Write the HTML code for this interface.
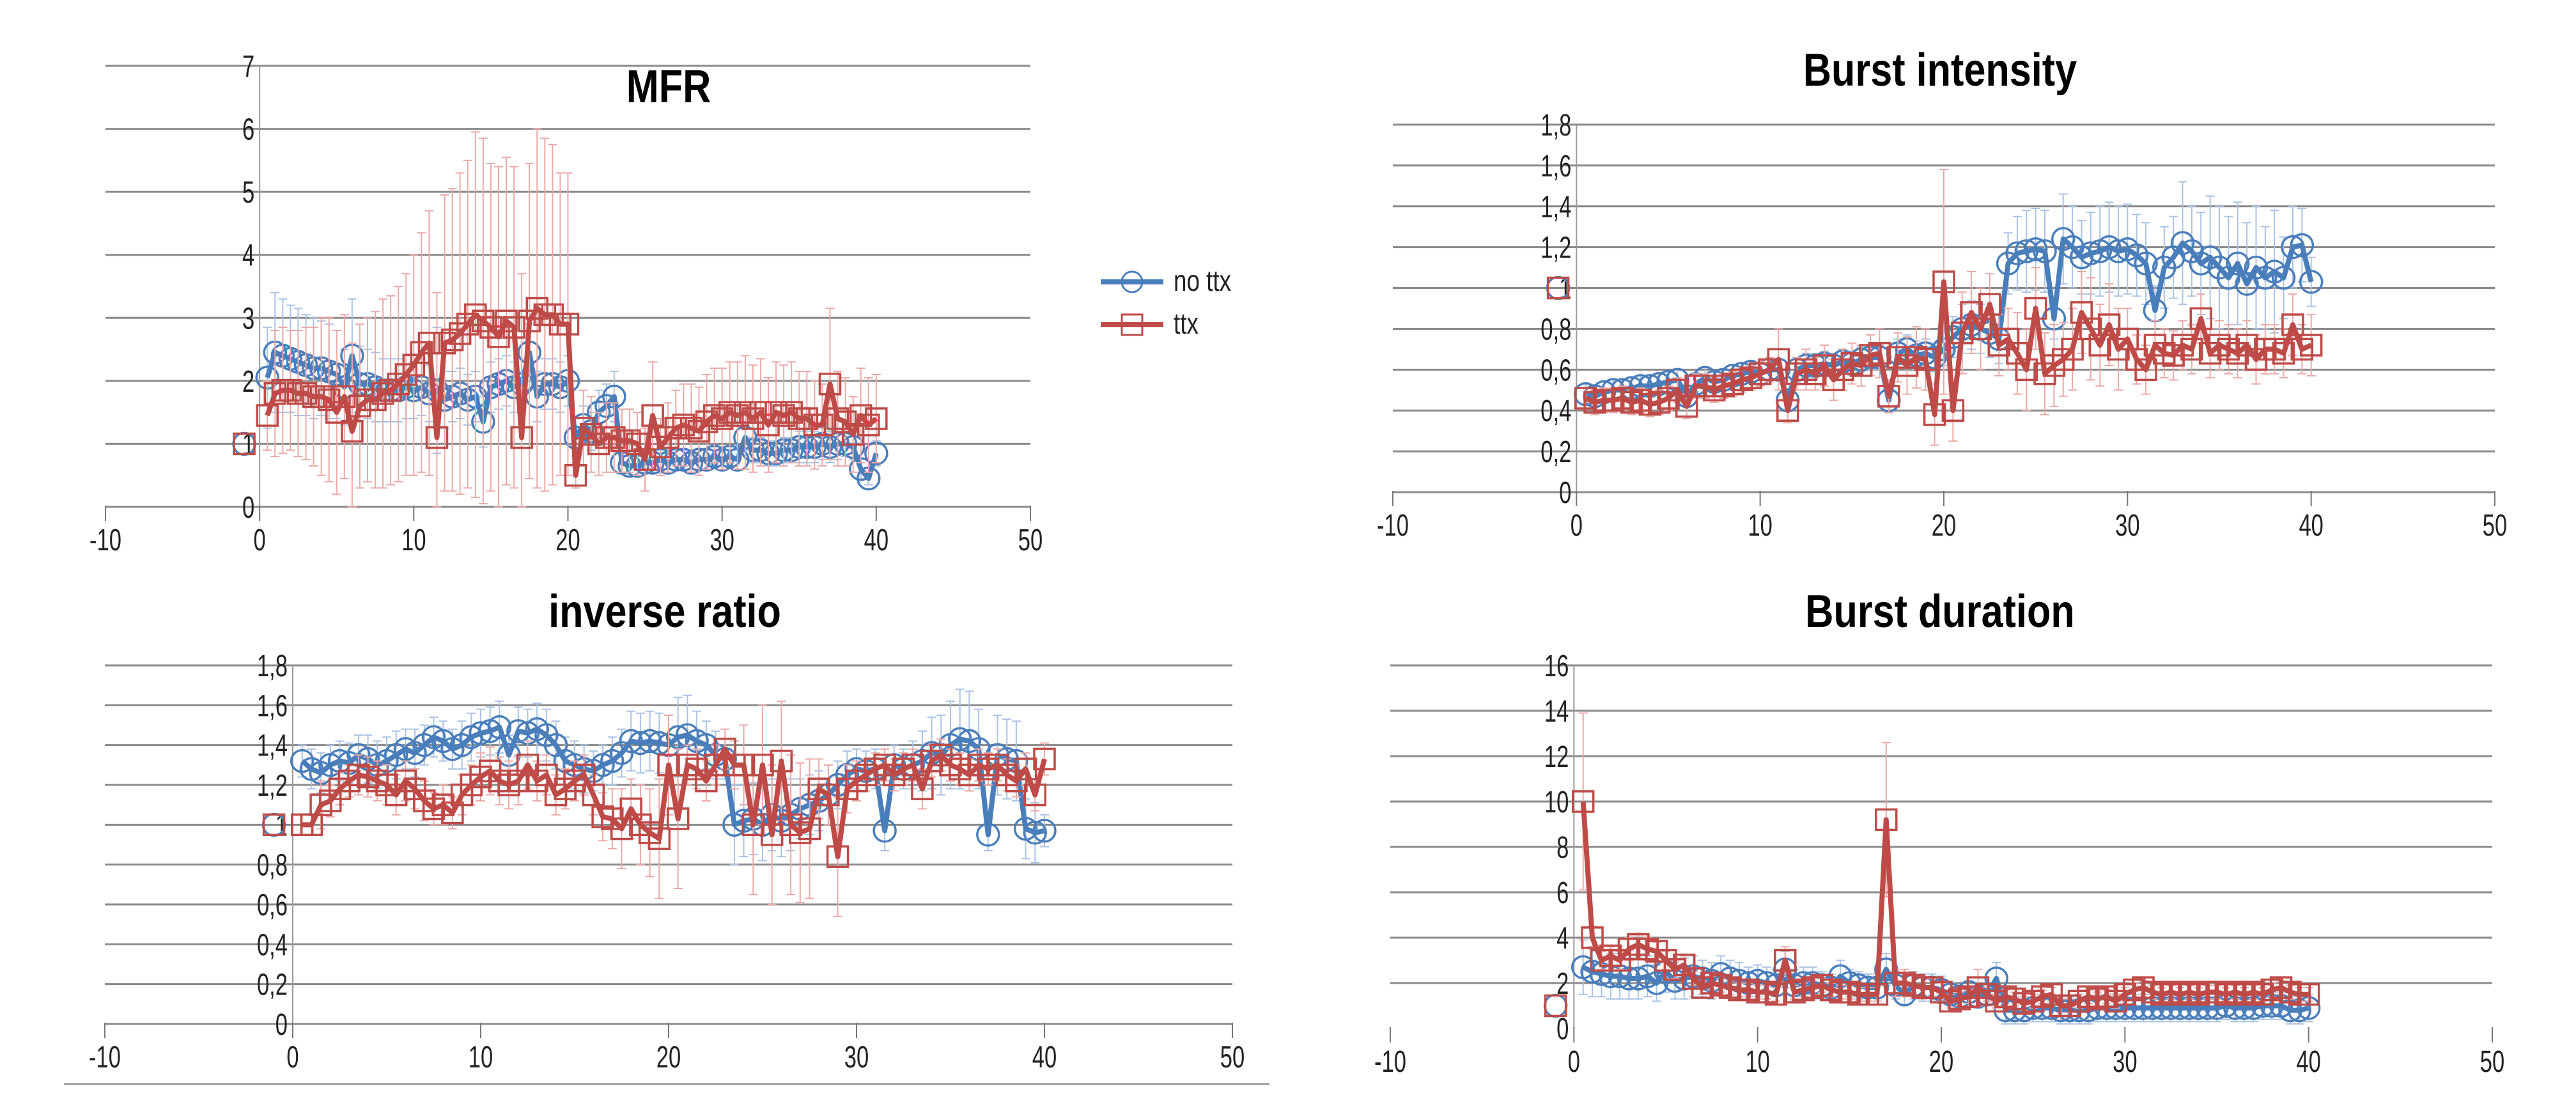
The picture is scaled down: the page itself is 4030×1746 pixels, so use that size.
<!DOCTYPE html>
<html><head><meta charset="utf-8"><style>
html,body{margin:0;padding:0;background:#fff;}
svg{display:block;}
text{font-family:"Liberation Sans Narrow","Liberation Sans",sans-serif;fill:#222;}
.title{font-family:"Liberation Sans",sans-serif;font-weight:bold;fill:#000;}
</style></head><body>
<svg id="root" width="4030" height="1746" viewBox="0 0 4030 1746" xmlns="http://www.w3.org/2000/svg">
<line x1="100" y1="1696" x2="1986" y2="1696" stroke="#999" stroke-width="3"/>
<g>
<g>
<line x1="1722" y1="441" x2="1820" y2="441" stroke="#4a7ebb" stroke-width="8"/>
<circle cx="1771" cy="441" r="16" fill="none" stroke="#4a7ebb" stroke-width="3"/>
<text transform="translate(1836,455) scale(0.8,1)" font-size="46">no ttx</text></g>
<g>
<line x1="1722" y1="508" x2="1820" y2="508" stroke="#be4b48" stroke-width="8"/>
<rect x="1755" y="492" width="32" height="32" fill="none" stroke="#be4b48" stroke-width="3"/>
<text transform="translate(1836,522) scale(0.8,1)" font-size="46">ttx</text></g>
</g>
</svg>
<script>
// ---- MFR ----
const mfrBlue=[2.05,2.45,2.4,2.35,2.3,2.25,2.2,2.2,2.15,2.1,1.9,2.4,1.95,1.95,1.9,1.85,1.85,1.85,1.9,1.85,1.9,1.8,1.85,1.7,1.75,1.8,1.7,1.75,1.35,1.9,1.95,2.0,1.9,1.95,2.45,1.75,1.95,1.95,1.9,2.0,1.1,1.3,1.2,1.5,1.6,1.75,0.7,0.65,0.65,0.7,0.7,0.75,0.7,0.75,0.75,0.7,0.75,0.75,0.8,0.75,0.8,0.75,1.1,0.9,0.9,0.85,0.85,0.9,0.9,0.95,0.95,0.95,1.0,0.95,1.0,1.0,0.95,0.6,0.45,0.85];
const mfrRed=[1.45,1.8,1.85,1.85,1.8,1.8,1.75,1.75,1.7,1.5,1.75,1.2,1.6,1.7,1.7,1.8,1.85,1.95,2.1,2.25,2.45,2.6,1.1,2.6,2.65,2.75,2.9,3.05,2.95,2.85,2.7,2.95,2.85,1.1,2.95,3.15,3.05,3.05,2.9,2.9,0.5,1.25,1.15,1.0,1.1,1.1,1.05,1.05,1.0,0.75,1.45,0.95,1.1,1.25,1.3,1.25,1.2,1.35,1.45,1.4,1.5,1.45,1.5,1.4,1.5,1.3,1.5,1.45,1.5,1.4,1.4,1.3,1.3,1.95,1.4,1.35,1.15,1.45,1.3,1.4];
const mfrBlueErr=[0.8,0.95,0.9,0.85,0.85,0.8,0.8,0.75,0.75,0.7,0.6,0.9,0.6,0.55,0.55,0.5,0.5,0.5,0.5,0.45,0.45,0.45,1.0,0.45,0.4,0.4,0.4,0.4,0.4,0.4,0.4,0.4,0.4,0.4,0.45,0.4,0.4,0.4,0.4,0.4,0.3,0.3,0.3,0.35,0.35,0.4,0.15,0.15,0.15,0.15,0.15,0.15,0.15,0.15,0.15,0.15,0.15,0.15,0.15,0.15,0.15,0.15,0.2,0.2,0.2,0.2,0.2,0.2,0.2,0.25,0.25,0.25,0.25,0.25,0.25,0.2,0.2,0.15,0.1,0.2];
const mfrRedErr=[0.55,1.0,1.0,0.95,1.0,1.05,1.1,1.25,1.3,1.3,1.3,1.4,1.3,1.3,1.4,1.5,1.5,1.55,1.6,1.75,1.9,2.1,2.3,2.35,2.4,2.55,2.6,2.9,2.9,2.6,2.7,2.6,2.55,2.6,2.5,2.85,2.8,2.7,2.4,2.4,0.2,0.6,0.6,0.5,0.55,0.55,0.5,0.5,0.5,0.5,0.85,0.45,0.55,0.6,0.65,0.7,0.7,0.75,0.75,0.8,0.8,0.85,0.9,0.85,0.85,0.75,0.8,0.8,0.8,0.75,0.75,0.7,0.65,1.2,0.75,0.7,0.6,0.75,0.75,0.7];
// ---- Burst intensity ----
const biBlue=[0.48,0.47,0.49,0.5,0.5,0.51,0.52,0.52,0.53,0.54,0.55,0.47,0.53,0.56,0.54,0.55,0.57,0.58,0.59,0.58,0.6,0.6,0.45,0.6,0.62,0.62,0.63,0.62,0.64,0.63,0.65,0.66,0.66,0.45,0.68,0.7,0.67,0.68,0.66,0.7,0.76,0.8,0.82,0.8,0.78,0.75,1.12,1.17,1.18,1.19,1.18,0.85,1.24,1.2,1.15,1.17,1.18,1.2,1.18,1.19,1.16,1.12,0.89,1.1,1.15,1.22,1.18,1.12,1.15,1.1,1.05,1.12,1.02,1.1,1.05,1.08,1.05,1.2,1.21,1.03];
const biRed=[0.46,0.44,0.45,0.45,0.46,0.44,0.45,0.43,0.44,0.46,0.5,0.42,0.52,0.52,0.5,0.52,0.53,0.55,0.56,0.58,0.6,0.65,0.4,0.58,0.6,0.58,0.62,0.55,0.6,0.63,0.62,0.67,0.68,0.47,0.66,0.62,0.66,0.65,0.38,1.03,0.4,0.78,0.88,0.8,0.92,0.72,0.75,0.68,0.6,0.9,0.58,0.62,0.65,0.7,0.88,0.8,0.72,0.82,0.7,0.75,0.65,0.6,0.72,0.68,0.67,0.72,0.7,0.85,0.68,0.72,0.7,0.68,0.72,0.65,0.7,0.7,0.68,0.82,0.7,0.72];
const biBlueErr=[0.05,0.05,0.05,0.05,0.05,0.05,0.05,0.05,0.05,0.05,0.05,0.05,0.05,0.05,0.05,0.05,0.05,0.05,0.05,0.05,0.05,0.05,0.05,0.06,0.06,0.06,0.06,0.06,0.06,0.06,0.06,0.06,0.06,0.06,0.07,0.07,0.07,0.07,0.07,0.08,0.1,0.12,0.12,0.12,0.12,0.12,0.15,0.18,0.2,0.2,0.2,0.1,0.22,0.2,0.18,0.2,0.22,0.22,0.22,0.22,0.2,0.2,0.12,0.2,0.2,0.3,0.22,0.25,0.3,0.3,0.3,0.3,0.3,0.3,0.25,0.3,0.2,0.2,0.18,0.12];
const biRedErr=[0.05,0.06,0.06,0.06,0.06,0.06,0.06,0.06,0.06,0.06,0.06,0.06,0.06,0.06,0.06,0.06,0.06,0.06,0.06,0.06,0.06,0.15,0.06,0.08,0.1,0.08,0.1,0.1,0.1,0.1,0.1,0.1,0.12,0.08,0.12,0.14,0.15,0.15,0.15,0.55,0.15,0.2,0.2,0.2,0.15,0.15,0.15,0.2,0.2,0.2,0.2,0.2,0.18,0.2,0.2,0.25,0.2,0.2,0.2,0.15,0.12,0.12,0.12,0.12,0.12,0.12,0.12,0.12,0.12,0.12,0.12,0.12,0.12,0.12,0.12,0.12,0.12,0.15,0.12,0.15];
// ---- Inverse ratio ----
const irBlue=[1.32,1.28,1.26,1.3,1.32,1.31,1.35,1.33,1.3,1.32,1.35,1.38,1.36,1.4,1.44,1.42,1.38,1.4,1.44,1.46,1.47,1.49,1.35,1.47,1.46,1.48,1.45,1.4,1.32,1.3,1.28,1.27,1.3,1.32,1.36,1.42,1.41,1.42,1.41,1.4,1.44,1.45,1.42,1.4,1.35,1.33,1.0,1.02,1.03,1.0,1.05,1.02,1.05,1.08,1.1,1.12,1.15,1.2,1.25,1.28,1.27,1.28,0.97,1.3,1.28,1.3,1.32,1.36,1.35,1.4,1.43,1.42,1.38,0.95,1.35,1.33,1.32,0.98,0.96,0.97];
const irRed=[1.0,1.0,1.1,1.12,1.18,1.22,1.25,1.24,1.22,1.2,1.15,1.22,1.18,1.12,1.08,1.1,1.06,1.15,1.2,1.24,1.27,1.22,1.2,1.22,1.3,1.22,1.25,1.15,1.18,1.22,1.25,1.15,1.04,1.03,0.98,1.08,1.0,0.96,0.93,1.3,1.03,1.3,1.28,1.22,1.3,1.38,1.3,1.3,1.0,1.3,0.95,1.32,1.0,0.96,0.98,1.18,1.15,0.84,1.18,1.22,1.25,1.28,1.3,1.25,1.28,1.3,1.18,1.32,1.35,1.3,1.28,1.25,1.3,1.28,1.3,1.25,1.22,1.28,1.15,1.33];
const irBlueErr=[0.08,0.1,0.1,0.1,0.1,0.1,0.1,0.12,0.12,0.12,0.12,0.1,0.12,0.1,0.1,0.1,0.1,0.12,0.12,0.12,0.12,0.13,0.1,0.12,0.12,0.13,0.13,0.12,0.12,0.12,0.12,0.1,0.1,0.12,0.12,0.15,0.15,0.15,0.15,0.15,0.2,0.2,0.15,0.12,0.12,0.1,0.2,0.18,0.18,0.18,0.18,0.18,0.18,0.15,0.15,0.15,0.15,0.12,0.12,0.1,0.1,0.1,0.1,0.1,0.1,0.12,0.15,0.18,0.2,0.22,0.25,0.25,0.2,0.08,0.2,0.2,0.2,0.15,0.15,0.08];
const irRedErr=[0.05,0.05,0.12,0.08,0.08,0.08,0.1,0.1,0.1,0.1,0.1,0.1,0.1,0.1,0.08,0.1,0.08,0.1,0.1,0.12,0.12,0.12,0.12,0.12,0.12,0.1,0.1,0.1,0.1,0.1,0.1,0.1,0.12,0.15,0.2,0.15,0.2,0.22,0.3,0.25,0.35,0.1,0.1,0.1,0.1,0.1,0.12,0.2,0.35,0.3,0.35,0.3,0.35,0.35,0.35,0.15,0.15,0.3,0.12,0.1,0.08,0.08,0.08,0.08,0.08,0.08,0.1,0.08,0.08,0.08,0.08,0.08,0.08,0.08,0.08,0.08,0.08,0.08,0.08,0.08];
// ---- Burst duration ----
const bdBlue=[2.7,2.5,2.4,2.3,2.3,2.2,2.2,2.3,2.0,2.5,2.1,2.2,2.3,2.2,2.1,2.4,2.2,2.1,2.0,2.1,2.0,1.9,2.6,1.9,2.0,2.0,1.9,1.8,2.3,2.0,1.9,1.8,1.8,2.6,1.9,1.5,1.9,1.8,1.8,1.7,1.5,1.4,1.6,1.4,1.5,2.2,0.8,0.8,0.8,0.9,0.9,0.9,0.8,0.8,0.8,0.8,0.9,0.9,0.9,0.9,0.9,0.9,0.9,0.9,0.9,0.9,0.9,0.9,0.9,0.9,1.0,0.9,0.9,0.9,1.0,1.0,1.0,0.8,0.8,0.9];
const bdRed=[10,4.0,3.0,3.2,3.0,3.5,3.7,3.5,3.4,3.0,2.6,2.8,2.2,1.8,2.0,1.9,1.8,1.7,1.7,1.6,1.6,1.5,3.0,1.6,1.7,1.8,1.9,1.7,1.6,1.6,1.5,1.5,1.5,9.2,2.0,2.0,1.9,1.8,1.8,1.6,1.2,1.3,1.4,1.8,1.5,1.2,1.4,1.3,1.1,1.2,1.4,1.5,1.0,1.0,1.2,1.4,1.3,1.4,1.2,1.5,1.7,1.8,1.6,1.5,1.6,1.5,1.6,1.5,1.6,1.6,1.5,1.6,1.5,1.6,1.5,1.7,1.8,1.6,1.5,1.5];
const bdBlueErr=[1.2,1.1,1.0,1.0,1.0,0.9,0.9,0.9,0.8,0.9,0.8,0.9,0.9,0.8,0.8,0.8,0.8,0.8,0.7,0.7,0.7,0.7,0.8,0.7,0.7,0.7,0.6,0.6,0.7,0.6,0.6,0.6,0.6,0.7,0.6,0.5,0.6,0.6,0.6,0.6,0.5,0.5,0.5,0.5,0.5,0.7,0.6,0.6,0.6,0.6,0.6,0.6,0.6,0.6,0.6,0.6,0.6,0.6,0.6,0.6,0.6,0.6,0.6,0.6,0.6,0.6,0.6,0.6,0.6,0.6,0.6,0.6,0.6,0.6,0.6,0.6,0.6,0.6,0.6,0.6];
const bdRedErr=[3.9,0.5,0.4,0.4,0.4,0.5,0.5,0.5,0.4,0.4,0.4,0.4,0.3,0.3,0.3,0.3,0.3,0.3,0.3,0.3,0.3,0.3,0.6,0.3,0.3,0.3,0.3,0.3,0.3,0.3,0.3,0.3,0.3,3.4,0.6,0.6,0.5,0.5,0.4,0.4,0.3,0.3,0.3,0.8,0.3,0.3,0.3,0.3,0.3,0.3,0.3,0.3,0.3,0.3,0.3,0.3,0.3,0.3,0.3,0.3,0.3,0.3,0.3,0.3,0.3,0.3,0.3,0.3,0.3,0.3,0.3,0.3,0.3,0.3,0.3,0.3,0.3,0.3,0.3,0.3];
const baseX=[-1];
const baseVal=[1];
const xTicks=[-10,0,10,20,30,40,50];
const mfrTicks=[0,1,2,3,4,5,6,7];
const biTicks=[0,0.2,0.4,0.6,0.8,1,1.2,1.4,1.6,1.8];
const irTicks=[0,0.2,0.4,0.6,0.8,1,1.2,1.4,1.6,1.8];
const bdTicks=[0,2,4,6,8,10,12,14,16];

const NS="http://www.w3.org/2000/svg";
const root=document.getElementById('root');
function mk(tag,attrs,parent){const e=document.createElementNS(NS,tag);for(const k in attrs)e.setAttribute(k,attrs[k]);parent.appendChild(e);return e;}
function fmt(v){return String(v).replace('.',',');}

function chart(cfg){
  const g=mk('g',{},root);
  
  
  const sx=v=>cfg.x0+(v+10)/60*(cfg.x1-cfg.x0);
  const sy=v=>cfg.y0-v/cfg.ymax*(cfg.y0-cfg.y1);
  const grid=mk('g',{},g);
  
  
  cfg.yt.forEach(t=>{
    if(!(cfg.noZero && t===0)) mk('line',{x1:cfg.x0,x2:cfg.x1,y1:sy(t),y2:sy(t),stroke:'#8a8a8a','stroke-width':3},grid);
    const tx=mk('text',{transform:'translate('+(sx(0)-8)+','+(sy(t)+17)+') scale(0.72,1)','font-size':48,'text-anchor':'end'},g);
    tx.textContent=fmt(t);
    
    
  });
  mk('line',{x1:sx(0),x2:sx(0),y1:cfg.y1,y2:cfg.y0,stroke:'#999','stroke-width':2},g);
  xTicks.forEach(t=>{
    mk('line',{x1:sx(t),x2:sx(t),y1:cfg.y0-2,y2:cfg.y0+22,stroke:'#777','stroke-width':2},g);
    const tx=mk('text',{transform:'translate('+sx(t)+','+(cfg.y0+68)+') scale(0.72,1)','font-size':48,'text-anchor':'middle'},g);
    tx.textContent=t;
    
    
  });
  const title=mk('text',{transform:'translate('+cfg.tx+','+cfg.ty+') scale(0.85,1)','font-size':72,'text-anchor':'middle','class':'title'},g);
  title.textContent=cfg.title;
  
  
  const series=[[cfg.blue,cfg.blueErr,'#4a7ebb','#a9c3e4','circle','series-no-ttx'],[cfg.red,cfg.redErr,'#be4b48','#eaa9a7','square','series-ttx']];
  series.forEach(s=>{
    const sg=mk('g',{},g);
    
    
    const xs=s[0].map((v,i)=>(i+1)*0.5);
    s[0].forEach((v,i)=>{
      const x=sx(xs[i]),e=s[1][i];
      mk('line',{x1:x,x2:x,y1:sy(v+e),y2:sy(Math.max(0,v-e)),stroke:s[3],'stroke-width':2},sg);
      mk('line',{x1:x-7,x2:x+7,y1:sy(v+e),y2:sy(v+e),stroke:s[3],'stroke-width':2},sg);
      mk('line',{x1:x-7,x2:x+7,y1:sy(Math.max(0,v-e)),y2:sy(Math.max(0,v-e)),stroke:s[3],'stroke-width':2},sg);
    });
    const pts=s[0].map((v,i)=>sx(xs[i])+','+sy(v)).join(' ');
    const pl=mk('polyline',{points:pts,fill:'none',stroke:s[2],'stroke-width':8,'stroke-linejoin':'round'},sg);
    
    
    const all=s[0].map((v,i)=>[xs[i],v]).concat(baseX.map((bx,i)=>[bx,baseVal[i]]));
    all.forEach(p=>{
      const x=sx(p[0]),y=sy(p[1]);
      let m;
      if(s[4]==='circle') m=mk('circle',{cx:x,cy:y,r:17,fill:'none',stroke:s[2],'stroke-width':3.5},sg);
      else m=mk('rect',{x:x-16,y:y-16,width:32,height:32,fill:'none',stroke:s[2],'stroke-width':3.5},sg);
      
      
    });
  });
}
chart({name:'mfr-chart',title:'MFR',x0:165,x1:1612,y0:793,y1:103,ymax:7,yt:mfrTicks,tx:1046,ty:160,blue:mfrBlue,red:mfrRed,blueErr:mfrBlueErr,redErr:mfrRedErr});
chart({name:'burst-intensity-chart',title:'Burst intensity',x0:2179,x1:3903,y0:770,y1:195,ymax:1.8,yt:biTicks,tx:3035,ty:134,blue:biBlue,red:biRed,blueErr:biBlueErr,redErr:biRedErr});
chart({name:'inverse-ratio-chart',title:'inverse ratio',x0:164,x1:1928,y0:1602,y1:1041,ymax:1.8,yt:irTicks,tx:1040,ty:981,blue:irBlue,red:irRed,blueErr:irBlueErr,redErr:irRedErr});
chart({name:'burst-duration-chart',title:'Burst duration',x0:2175,x1:3899,y0:1609,y1:1041,ymax:16,yt:bdTicks,noZero:true,tx:3035,ty:981,blue:bdBlue,red:bdRed,blueErr:bdBlueErr,redErr:bdRedErr});
</script>
</body></html>
